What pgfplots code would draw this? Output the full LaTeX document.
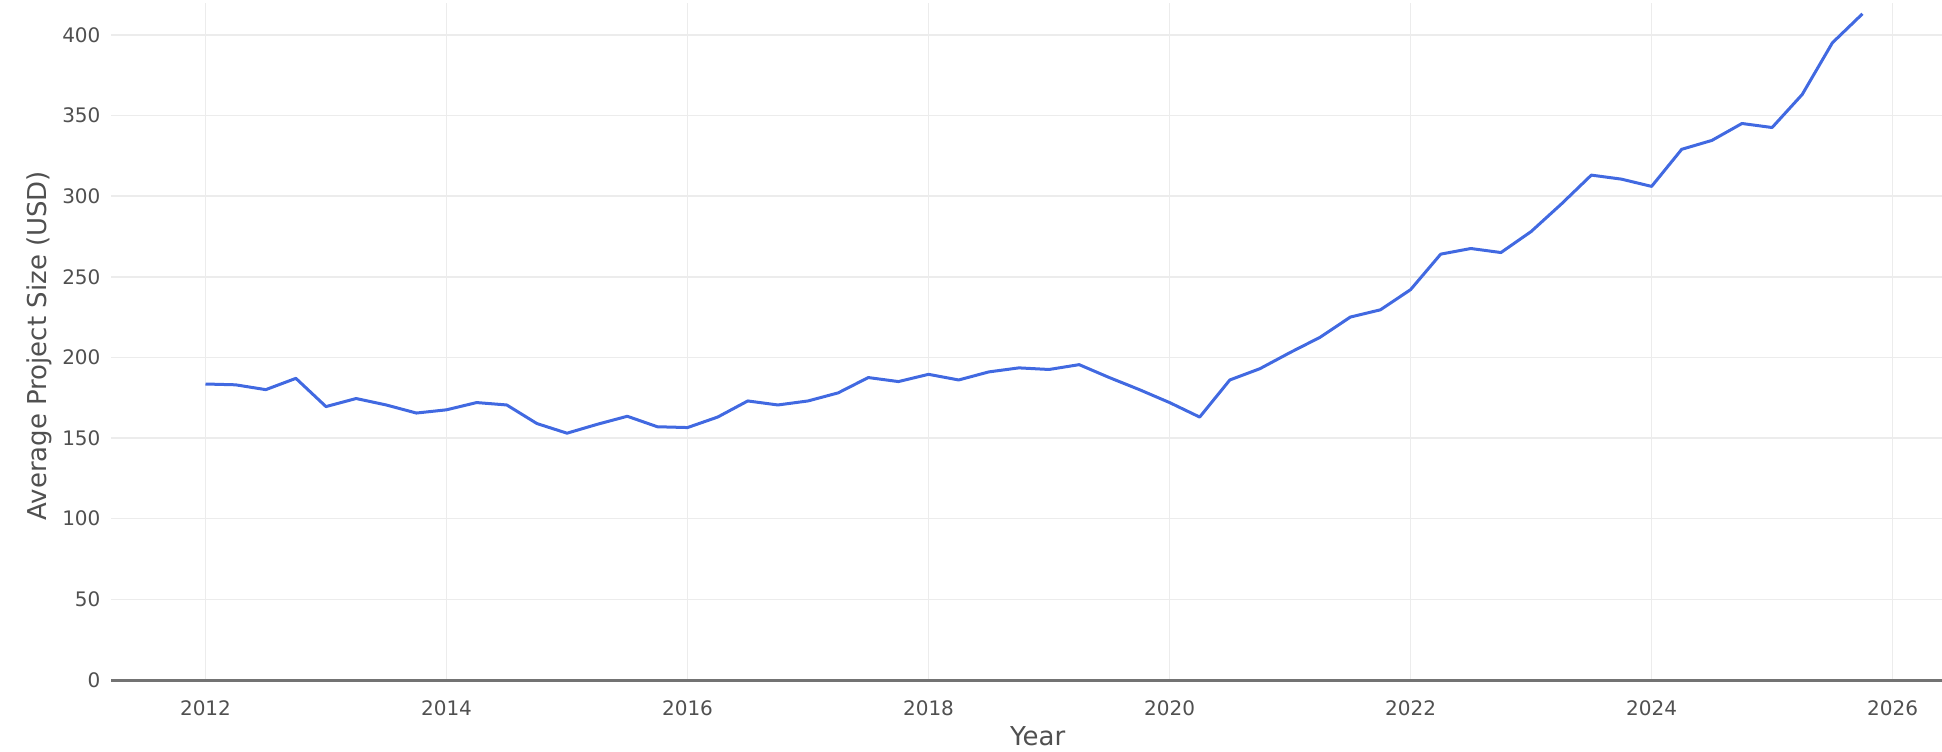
\documentclass[border=0pt]{standalone}
\usepackage{pgfplots}
\pgfplotsset{compat=1.18}
\usepackage{fontspec}
\setmainfont{DejaVu Sans}
\definecolor{lineblue}{RGB}{65,105,225}
\definecolor{gridc}{RGB}{236,236,236}
\definecolor{txt}{RGB}{80,80,80}
\definecolor{zeroc}{RGB}{115,115,115}
\begin{document}
\begin{tikzpicture}
\begin{axis}[
  at={(0,0)}, anchor=south west,
  scale only axis, width=915.25pt, height=338.75pt,
  xmin=2011.22, xmax=2026.41, ymin=0, ymax=420,
  axis x line*=bottom, axis y line*=left,
  x axis line style={draw=zeroc, line width=1.5pt, -},
  y axis line style={draw=none},
  tick style={draw=none}, major tick length=0pt,
  xtick={2012,2014,...,2026}, ytick={0,50,...,400},
  grid=major, major grid style={draw=gridc, line width=0.8pt},
  /pgf/number format/assume math mode=true,
  xticklabel style={/pgf/number format/1000 sep={}, yshift=-7pt, text=txt, font=\fontsize{10}{12}\selectfont},
  yticklabel style={xshift=-2pt, text=txt, font=\fontsize{10}{12}\selectfont},
  xlabel={Year}, ylabel={Average Project Size (USD)},
  xlabel style={at={(axis description cs:0.506,0)}, anchor=base, yshift=-32.5pt, text=txt, font=\fontsize{13}{15}\selectfont},
  ylabel style={at={(axis description cs:-0.03933,0.4934)}, anchor=center, text=txt, font=\fontsize{13}{15}\selectfont},
  clip=true,
]
\addplot[lineblue, line width=1.5pt, line join=round] table {
x y
2012.00 183.5
2012.25 183
2012.50 180
2012.75 187
2013.00 169.5
2013.25 174.5
2013.50 170.5
2013.75 165.5
2014.00 167.5
2014.25 172
2014.50 170.5
2014.75 159
2015.00 153
2015.25 158.5
2015.50 163.5
2015.75 157
2016.00 156.5
2016.25 163
2016.50 173
2016.75 170.5
2017.00 173
2017.25 178
2017.50 187.5
2017.75 185
2018.00 189.5
2018.25 186
2018.50 191
2018.75 193.5
2019.00 192.5
2019.25 195.5
2019.50 187.5
2019.75 180
2020.00 172
2020.25 163
2020.50 186
2020.75 193
2021.00 203
2021.25 212.5
2021.50 225
2021.75 229.5
2022.00 242
2022.25 264
2022.50 267.5
2022.75 265
2023.00 278
2023.25 295
2023.50 313
2023.75 310.5
2024.00 306
2024.25 329
2024.50 334.5
2024.75 345
2025.00 342.5
2025.25 363
2025.50 395
2025.75 413
};
\end{axis}
\pgfresetboundingbox
\path (-55.75pt,-35.5pt) rectangle (915.25pt,340pt);
\end{tikzpicture}
\end{document}
